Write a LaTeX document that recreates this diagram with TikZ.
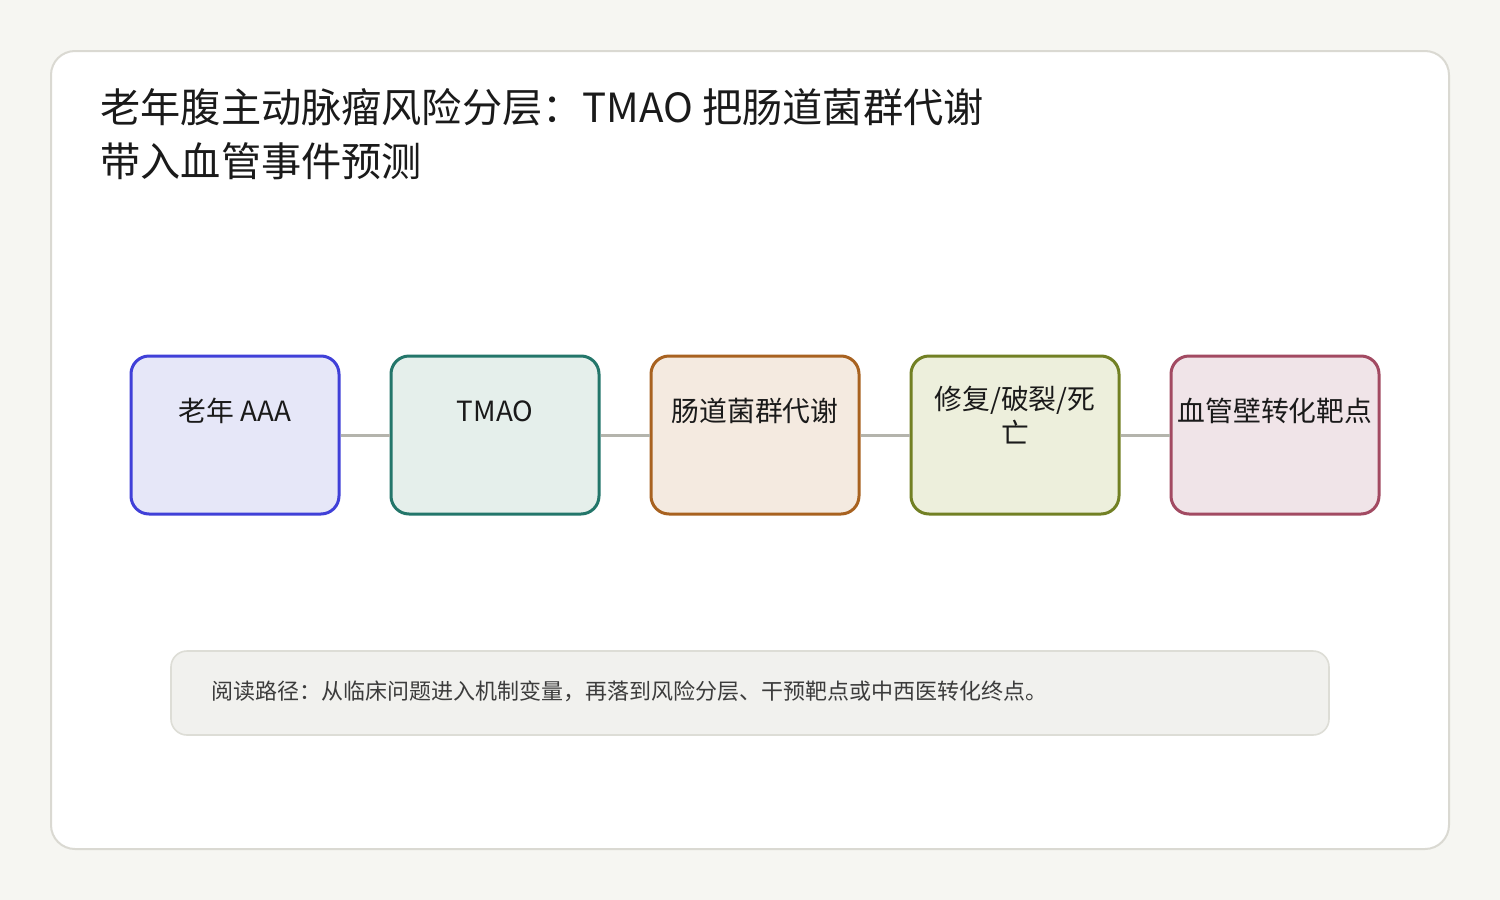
\documentclass[tikz,border=0pt]{standalone}
\usepackage{fontspec}
\setmainfont{Noto Sans CJK SC}
\definecolor{pagebg}{HTML}{F6F6F2}
\definecolor{cardline}{HTML}{DAD9D2}
\definecolor{linkgray}{HTML}{B4B4AC}
\definecolor{notefill}{HTML}{F1F1EE}
\definecolor{noteline}{HTML}{DDDDD6}
\definecolor{inkdark}{HTML}{1A1A1A}
\definecolor{blueline}{HTML}{4040D8}\definecolor{bluefill}{HTML}{E6E7F8}
\definecolor{tealline}{HTML}{23766A}\definecolor{tealfill}{HTML}{E5EFEB}
\definecolor{brownline}{HTML}{A86220}\definecolor{brownfill}{HTML}{F4EAE0}
\definecolor{oliveline}{HTML}{728024}\definecolor{olivefill}{HTML}{EDEFDC}
\definecolor{roseline}{HTML}{A24A62}\definecolor{rosefill}{HTML}{F0E4E8}
\tikzset{every node/.style={draw=none,inner sep=0pt},
  stage/.style={rectangle,rounded corners=9pt,line width=1.5pt,
    minimum width=104pt,minimum height=79pt},
  stagetext/.style={font=\fontsize{13.9pt}{17pt}\selectfont,text=inkdark,align=center},
  link/.style={linkgray,line width=1.5pt}}

\begin{document}
\begin{tikzpicture}[x=0.5pt,y=-0.5pt]
      \fill[pagebg] (0,0) rectangle (1500,900);
      \draw[cardline,fill=white,line width=1pt,rounded corners=12pt] (51,51) rectangle (1449,849);
      \node[anchor=north west,align=left,text=inkdark,font=\fontsize{20.1pt}{27pt}\selectfont] (title) at (100,88)
        {老年腹主动脉瘤风险分层：TMAO 把肠道菌群代谢\\带入血管事件预测};
      \node[stage,draw=blueline,fill=bluefill] (1) at (235,435) {};
      \node[stage,draw=tealline,fill=tealfill] (2) at (495,435) {};
      \node[stage,draw=brownline,fill=brownfill] (3) at (755,435) {};
      \node[stage,draw=oliveline,fill=olivefill] (4) at (1015,435) {};
      \node[stage,draw=roseline,fill=rosefill] (5) at (1275,435) {};
      \node[stagetext] (t1) at (235,411) {老年 AAA};
      \node[stagetext] (t2) at (495,411) {TMAO};
      \node[stagetext] (t3) at (755,411) {肠道菌群代谢};
      \node[stagetext] (t4) at (1015,415) {修复/破裂/死\\亡};
      \node[stagetext] (t5) at (1275,411) {血管壁转化靶点};
      \node[draw=noteline,fill=notefill,line width=0.8pt,rounded corners=8pt,
        minimum width=579pt,minimum height=42pt] (note) at (750,693) {};
      \node[anchor=west,text=inkdark!85,font=\fontsize{11pt}{14pt}\selectfont] (notetext) at (211,691)
        {阅读路径：从临床问题进入机制变量，再落到风险分层、干预靶点或中西医转化终点。};

\foreach \a/\b in {1/2,2/3,3/4,4/5}
  \draw[link] (\a) -- (\b);
    \end{tikzpicture}
\end{document}
